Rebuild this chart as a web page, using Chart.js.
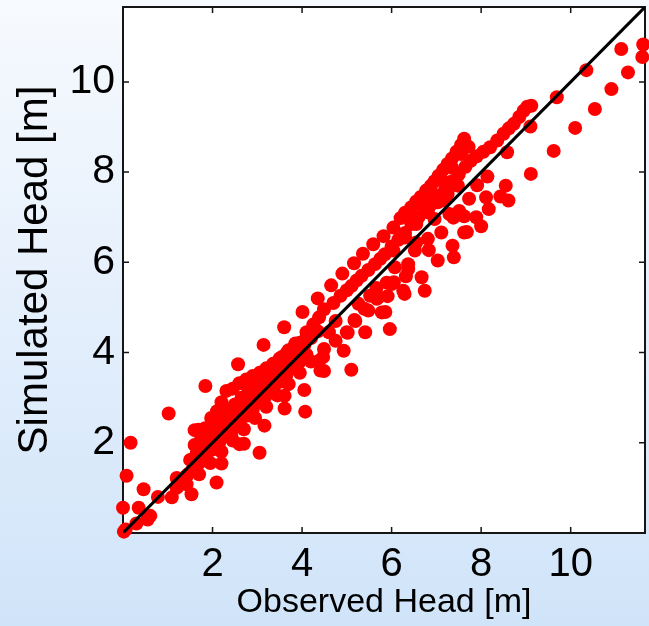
<!DOCTYPE html>
<html>
<head>
<meta charset="utf-8">
<script src="https://cdn.jsdelivr.net/npm/chart.js@4.4.1/dist/chart.umd.min.js"></script>
<style>
  html, body { margin: 0; padding: 0; overflow: hidden; }
  body {
    width: 649px; height: 626px;
    background: linear-gradient(to bottom, #f7fafe 0%, #e6f0fc 45%, #d0e4f9 100%);
  }
  #chart { position: absolute; left: 0; top: 0; }
</style>
</head>
<body>
<canvas id="chart" width="652" height="626"></canvas>
<script>
// Observed vs simulated head [m]

const axisMin = 0;
const axisMax = 11.66;
const tickValues = [2, 4, 6, 8, 10];
const oneToOne = [0, 11.66];

// near the origin
const lowObs = [0.02, 0.06, 0.0, 0.08, 0.17, 0.3, 0.35, 0.46, 0.55, 0.61, 0.78, 1.02, 1.09, 1.2, 1.2, 1.32, 1.42, 1.53, 1.45, 1.56, 1.84, 2.09, 2.2];
const lowSim = [0.03, 0.08, 0.56, 1.27, 2.0, 0.21, 0.56, 0.97, 0.3, 0.38, 0.8, 2.65, 0.79, 1.22, 1.0, 1.1, 1.08, 0.86, 1.3, 1.63, 3.26, 1.12, 1.54];

// dense band along the 1:1 line
const coreObs = [
  1.6, 1.69, 1.83, 1.97, 2.1, 2.2, 2.31, 2.45, 2.6, 2.75, 2.9, 3.05, 3.2, 3.35, 3.5, 3.65, 3.8, 3.95, 4.1, 4.25,
  1.6, 1.75, 1.9, 2.05, 2.2, 2.35, 2.5, 2.65, 2.8, 2.95, 3.1, 3.25, 3.4, 3.55, 3.7, 3.85,
  1.5, 1.65, 1.8, 1.95, 2.1, 2.25, 2.4, 2.55, 2.7, 2.85, 3.0, 3.15, 3.3, 3.45, 3.6, 3.75, 3.9, 4.05, 4.2, 4.35,
  1.4, 1.55, 1.7, 1.85, 2.0, 2.15, 2.3, 2.45, 2.6, 2.75, 2.9, 3.05, 3.2, 3.35, 3.5, 3.65, 3.8, 3.95, 4.1,
  1.7, 1.95, 2.2, 2.45, 2.7, 2.95, 3.2, 3.45, 3.7, 3.95, 4.2,
  2.57, 3.14, 2.42, 2.7, 2.6, 3.05, 3.16, 3.61, 3.61, 4.07, 4.05
];
const coreSim = [
  2.28, 2.29, 2.32, 2.55, 2.7, 2.9, 3.15, 3.2, 3.32, 3.4, 3.48, 3.55, 3.65, 3.75, 3.87, 3.98, 4.1, 4.22, 4.35, 4.47,
  1.95, 2.1, 2.25, 2.4, 2.55, 2.7, 2.85, 3.0, 3.15, 3.3, 3.45, 3.6, 3.75, 3.9, 4.05, 4.2,
  1.62, 1.77, 1.92, 2.07, 2.22, 2.37, 2.52, 2.67, 2.82, 2.97, 3.12, 3.27, 3.42, 3.57, 3.72, 3.87, 4.02, 4.17, 4.32, 4.47,
  1.25, 1.4, 1.55, 1.7, 1.85, 2.0, 2.15, 2.3, 2.45, 2.6, 2.75, 2.9, 3.05, 3.2, 3.35, 3.5, 3.65, 3.8, 3.95,
  1.3, 1.55, 1.8, 2.05, 2.3, 2.55, 2.8, 3.05, 3.3, 3.55, 3.8,
  3.74, 4.17, 2.14, 1.98, 1.97, 1.78, 2.38, 2.76, 3.04, 2.69, 3.17
];

// upper branch ending near (7.6, 8.7)
const upperObs = [3.6, 4.01, 4.35, 4.65, 4.9, 5.16, 5.36, 5.59, 5.82, 6.04, 6.2, 6.3, 6.44, 6.55, 6.65, 6.77, 6.88, 6.96, 7.05, 7.15, 7.25, 7.35, 7.45, 7.55, 7.62, 7.72,
  6.35, 6.6, 6.85, 7.1, 7.35, 7.55];
const upperSim = [4.56, 4.9, 5.2, 5.49, 5.75, 5.98, 6.19, 6.4, 6.58, 6.77, 6.98, 7.1, 7.22, 7.35, 7.45, 7.59, 7.7, 7.8, 7.92, 8.05, 8.18, 8.3, 8.45, 8.6, 8.74, 8.56,
  7.05, 7.3, 7.55, 7.85, 8.1, 8.4];

// second branch ending near (9.1, 9.5)
const midObs = [4.1, 4.25, 4.38, 4.49, 4.7, 4.86, 5.0, 5.11, 5.22, 5.33, 5.48, 5.63, 5.75, 5.85, 6.0, 6.15, 6.3, 6.44, 6.6, 6.75, 6.9, 7.05, 7.2, 7.35, 7.5, 7.65, 7.77, 7.9, 8.05, 8.2, 8.36, 8.5, 8.62, 8.73, 8.85, 8.95, 9.03, 9.12,
  6.04, 6.3, 6.55, 6.81, 7.03, 7.25, 7.48];
const midSim = [4.45, 4.62, 4.78, 4.96, 5.1, 5.26, 5.38, 5.48, 5.6, 5.7, 5.83, 5.96, 6.08, 6.18, 6.35, 6.5, 6.65, 6.85, 7.0, 7.15, 7.3, 7.48, 7.65, 7.8, 7.95, 8.12, 8.25, 8.35, 8.45, 8.55, 8.7, 8.85, 8.97, 9.07, 9.22, 9.36, 9.45, 9.47,
  6.26, 6.55, 6.85, 7.11, 7.33, 7.51, 7.7];

// scattered points below the line
const belowObs = [4.38, 4.47, 4.49, 4.49, 4.75, 4.93, 5.0, 5.1, 5.19, 4.75, 5.41, 5.48, 5.78, 5.7, 5.26, 5.52, 5.96, 5.67, 5.89, 6.0, 6.07, 6.26, 6.37, 6.29, 6.32, 6.67, 6.74, 6.37, 6.55, 6.83, 7.03, 7.11, 7.36, 7.39, 7.62, 7.68, 7.62, 7.38, 7.89, 8.0, 7.73, 7.91, 7.3, 6.85, 8.14, 8.11, 8.17, 8.43, 8.55, 8.61, 8.58, 9.1, 9.11, 5.39, 5.17, 5.86, 5.91, 5.66, 6.05, 5.02, 6.52, 6.81, 6.96, 7.29, 7.51, 7.18, 4.41, 4.6];
const belowSim = [3.82, 3.9, 3.59, 4.08, 4.26, 4.04, 4.45, 3.62, 4.7, 4.7, 4.45, 4.93, 4.89, 5.22, 5.08, 5.26, 4.52, 5.19, 5.55, 5.52, 5.89, 5.37, 5.85, 5.3, 5.69, 5.67, 5.37, 5.96, 6.44, 6.27, 6.04, 6.66, 6.37, 6.11, 6.66, 6.67, 7.02, 6.99, 7.0, 6.8, 7.41, 7.71, 7.68, 7.26, 7.9, 7.44, 7.18, 7.46, 7.7, 7.37, 8.44, 9.01, 7.96, 4.97, 4.72, 4.9, 5.25, 5.43, 5.56, 4.44, 6.26, 6.52, 6.96, 7.07, 7.14, 7.37, 3.6, 4.45];

// far right outliers
const farObs = [9.62, 9.69, 10.1, 10.35, 10.54, 10.91, 11.13, 11.28, 11.6, 11.62];
const farSim = [8.47, 9.66, 8.98, 10.26, 9.4, 9.84, 10.73, 10.21, 10.55, 10.83];

const FONT = '"Liberation Sans", Arial, Helvetica, sans-serif';

const toPoints = (xs, ys) => xs.map((x, i) => ({ x, y: ys[i] }));

function scatterSet(xs, ys) {
  return {
    type: 'scatter',
    data: toPoints(xs, ys),
    backgroundColor: '#ff0000',
    borderWidth: 0,
    pointRadius: 7,
    pointHoverRadius: 7,
    clip: false,
    order: 1
  };
}

// White plot area, black frame and inward tick marks on all four sides
const framePlugin = {
  id: 'frame',
  beforeDraw(chart) {
    const { ctx, chartArea: a } = chart;
    ctx.save();
    ctx.fillStyle = '#ffffff';
    ctx.fillRect(a.left, a.top, a.right - a.left, a.bottom - a.top);
    ctx.restore();
  },
  beforeDatasetsDraw(chart) {
    const { ctx, chartArea: a, scales } = chart;
    ctx.save();
    ctx.strokeStyle = '#151515';
    ctx.lineWidth = 2;
    ctx.strokeRect(a.left, a.top, a.right - a.left, a.bottom - a.top);
    ctx.lineWidth = 1.5;
    const len = 6;
    tickValues.forEach((v) => {
      const px = scales.x.getPixelForValue(v);
      const py = scales.y.getPixelForValue(v);
      ctx.beginPath();
      ctx.moveTo(px, a.bottom); ctx.lineTo(px, a.bottom - len);
      ctx.moveTo(px, a.top); ctx.lineTo(px, a.top + len);
      ctx.moveTo(a.left, py); ctx.lineTo(a.left + len, py);
      ctx.moveTo(a.right, py); ctx.lineTo(a.right - len, py);
      ctx.stroke();
    });
    ctx.restore();
  }
};

new Chart(document.getElementById('chart'), {
  data: {
    datasets: [
      {
        type: 'line',
        data: toPoints(oneToOne, oneToOne),
        borderColor: '#000000',
        borderWidth: 3,
        pointRadius: 0,
        fill: false,
        order: 0
      },
      scatterSet(lowObs, lowSim),
      scatterSet(coreObs, coreSim),
      scatterSet(upperObs, upperSim),
      scatterSet(midObs, midSim),
      scatterSet(belowObs, belowSim),
      scatterSet(farObs, farSim)
    ]
  },
  options: {
    responsive: false,
    animation: false,
    devicePixelRatio: 1,
    layout: { padding: { top: 7, left: 0, right: 2, bottom: 0 } },
    plugins: { legend: { display: false }, tooltip: { enabled: false } },
    scales: {
      x: {
        type: 'linear',
        position: 'bottom',
        min: axisMin,
        max: axisMax,
        grid: { display: false, drawTicks: false },
        border: { display: false },
        afterBuildTicks: (s) => { s.ticks = tickValues.map((v) => ({ value: v })); },
        afterFit: (s) => { s.height = 93; s.paddingLeft = 0; s.paddingRight = 0; },
        ticks: { padding: 8, color: '#000', font: { family: FONT, size: 40 } },
        title: {
          display: true,
          text: 'Observed Head [m]',
          color: '#000',
          font: { family: FONT, size: 34 },
          padding: { top: 0, bottom: 3 }
        }
      },
      y: {
        type: 'linear',
        position: 'left',
        min: axisMin,
        max: axisMax,
        grid: { display: false, drawTicks: false },
        border: { display: false },
        afterBuildTicks: (s) => { s.ticks = tickValues.map((v) => ({ value: v })); },
        afterFit: (s) => { s.width = 123; s.paddingTop = 0; s.paddingBottom = 0; },
        ticks: { padding: 8, color: '#000', font: { family: FONT, size: 41 } },
        title: {
          display: true,
          text: 'Simulated Head [m]',
          color: '#000',
          font: { family: FONT, size: 42 },
          padding: { top: 10, bottom: 0 }
        }
      }
    }
  },
  plugins: [framePlugin]
});
</script>
</body>
</html>
